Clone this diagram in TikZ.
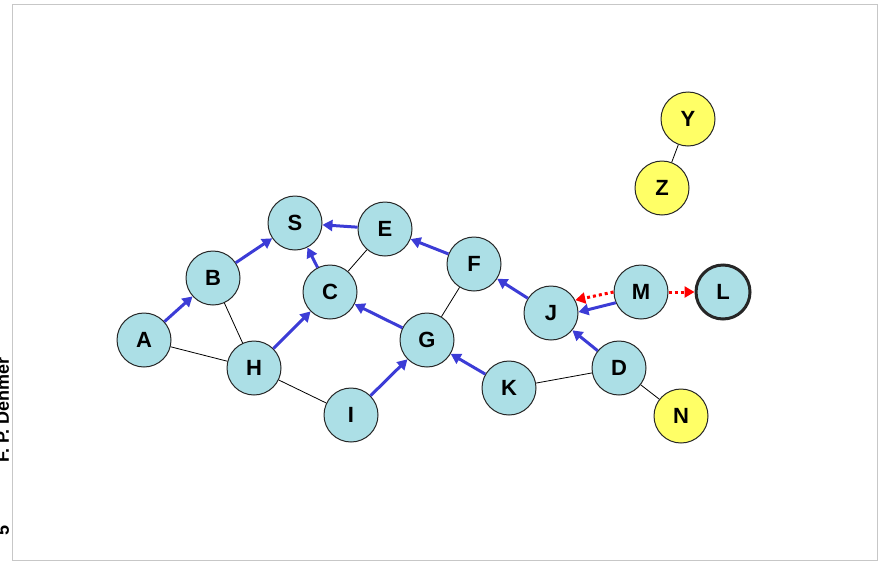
\documentclass[tikz,border=0pt]{standalone}
\usepackage{fontspec}
\setmainfont{Liberation Sans}
\usetikzlibrary{arrows.meta}
\definecolor{nodecyan}{RGB}{172,223,230}
\definecolor{nodeyellow}{RGB}{255,255,102}
\definecolor{arrowblue}{RGB}{60,60,214}

\begin{document}
\begin{tikzpicture}[x=0.5pt,y=-0.5pt]
\tikzset{
  graphnode/.style={circle,draw=black!85,line width=0.5pt,fill=nodecyan,minimum size=27pt,inner sep=0pt,font=\bfseries\fontsize{11}{13}\selectfont},
  isolated/.style={graphnode,fill=nodeyellow},
  directed/.style={-{Triangle[length=5pt,width=5.5pt]},line width=1.5pt,draw=arrowblue},
  tentative/.style={-{Triangle[length=5pt,width=5.5pt]},line width=1.5pt,draw=red,dash pattern=on 1.5pt off 1.5pt},
  undirected/.style={line width=0.4pt}
}
\useasboundingbox (0,0) rectangle (886,562);
\draw[black!22,line width=0.5pt] (12,4.5) rectangle (877,560);
\node[rotate=90,anchor=base east,font=\bfseries\fontsize{9}{11}\selectfont] (n_credit) at (9,350) {F. P. Dehmer};
\node[rotate=90,anchor=base,font=\bfseries\fontsize{9}{11}\selectfont] (n_page) at (9,530) {5};
% nodes
\node[graphnode] (n_A) at (144,340) {A};
\node[graphnode] (n_B) at (213,278) {B};
\node[graphnode] (n_S) at (295,223) {S};
\node[graphnode] (n_C) at (330,292) {C};
\node[graphnode] (n_H) at (254,368) {H};
\node[graphnode] (n_E) at (385,229) {E};
\node[graphnode] (n_F) at (474,264) {F};
\node[graphnode] (n_G) at (427,340) {G};
\node[graphnode] (n_I) at (351,415) {I};
\node[graphnode] (n_K) at (509,388) {K};
\node[graphnode] (n_J) at (551,313) {J};
\node[graphnode] (n_D) at (619,368) {D};
\node[graphnode] (n_M) at (641,292) {M};
\node[graphnode,line width=1.5pt] (n_L) at (723,292) {L};
\node[isolated] (n_N) at (681,416) {N};
\node[isolated] (n_Y) at (688,119) {Y};
\node[isolated] (n_Z) at (662,188) {Z};
% plain edges
\draw[undirected] (n_A) -- (n_H);
\draw[undirected] (n_B) -- (n_H);
\draw[undirected] (n_H) -- (n_I);
\draw[undirected] (n_C) -- (n_E);
\draw[undirected] (n_G) -- (n_F);
\draw[undirected] (n_K) -- (n_D);
\draw[undirected] (n_D) -- (n_N);
\draw[undirected] (n_Y) -- (n_Z);
% tree edges
\draw[directed] (n_A) -- (n_B);
\draw[directed] (n_B) -- (n_S);
\draw[directed] (n_C) -- (n_S);
\draw[directed] (n_E) -- (n_S);
\draw[directed] (n_H) -- (n_C);
\draw[directed] (n_G) -- (n_C);
\draw[directed] (n_F) -- (n_E);
\draw[directed] (n_J) -- (n_F);
\draw[directed] (n_I) -- (n_G);
\draw[directed] (n_K) -- (n_G);
\draw[directed] (n_D) -- (n_J);
\draw[directed] (n_M.203) -- (n_J.2);
% candidate edges
\draw[tentative] (n_M.west) -- (n_J.28);
\draw[tentative] (n_M.east) -- (n_L.west);
\end{tikzpicture}
\end{document}
